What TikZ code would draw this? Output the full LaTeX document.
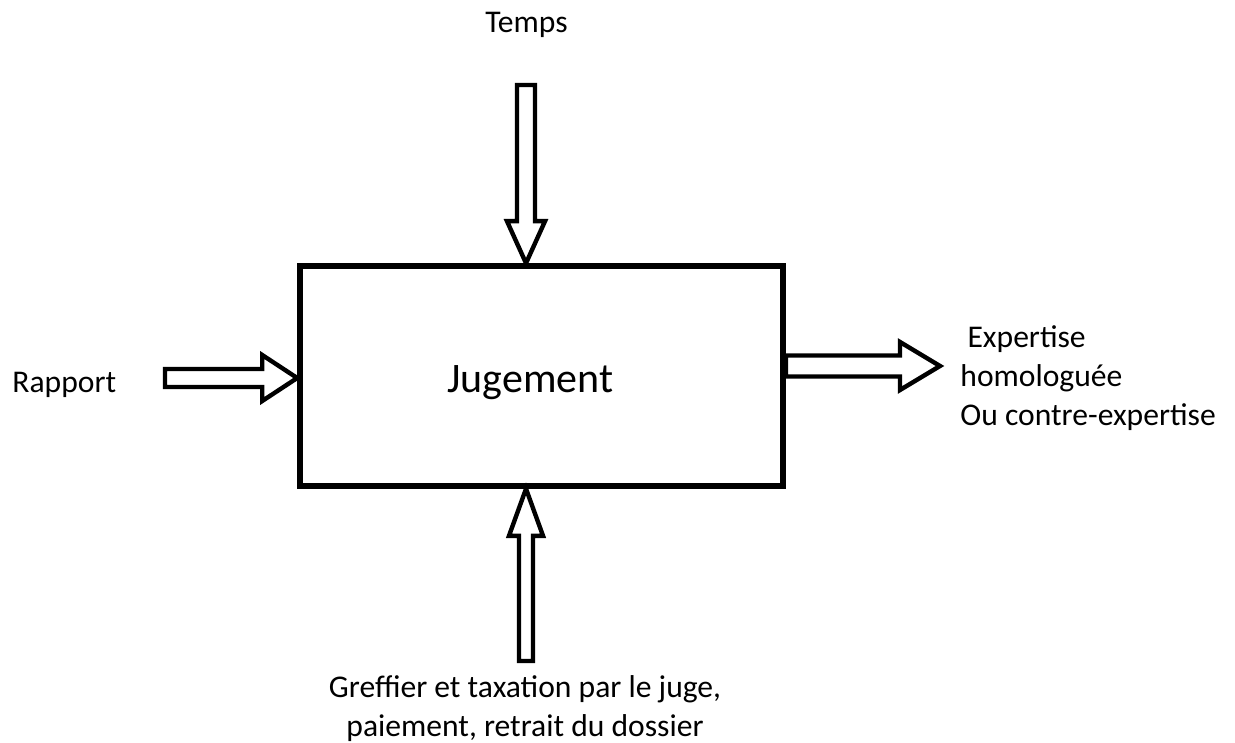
\documentclass[tikz,border=0pt]{standalone}
\usepackage{fontspec}
\setmainfont{Carlito}
\usetikzlibrary{calc}

% flèche pleine : départ, pointe, demi-largeur du corps, demi-largeur de la tête, longueur de la tête
\newcommand{\fleche}[5]{%
  \coordinate (fl-c) at ($(#2)!#5!(#1)$);
  \draw[flechebloc] ($(#1)!#3!90:(#2)$) -- ($(fl-c)!#3!90:(#2)$) -- ($(fl-c)!#4!90:(#2)$)
    -- (#2) -- ($(fl-c)!#4!-90:(#2)$) -- ($(fl-c)!#3!-90:(#2)$) -- ($(#1)!#3!-90:(#2)$) -- cycle;}

\tikzset{
  boite/.style={draw, line width=2.8pt, minimum width=241.5pt, minimum height=110pt, inner sep=0pt},
  flechebloc/.style={draw, line width=2.2pt, fill=white, line join=miter},
  etiquette/.style={inner sep=0pt, font=\fontsize{15.8pt}{19.5pt}\selectfont},
}

\begin{document}
\begin{tikzpicture}[x=0.5pt,y=-0.5pt]
	\useasboundingbox (0,0) rectangle (1235,743);

	\node[boite] (jugement) at (541.5,376) {};
	\node[anchor=base, inner sep=0pt, font=\fontsize{21pt}{25pt}\selectfont] (titre) at (530.5,392) {Jugement};

	\node[etiquette, anchor=base] (temps) at (526.5,33) {Temps};
	\node[etiquette, anchor=base west] (rapport) at (12,392) {Rapport};
	% base = ligne du bas
	\node[etiquette, anchor=base west, align=left] (expertise) at (960,425) {\ Expertise\\homologuée\\Ou contre-expertise};
	\node[etiquette, anchor=base, align=center] (greffier) at (525,736) {Greffier et taxation par le juge,\\paiement, retrait du dossier};

	\coordinate (haut) at (526,85);
	\coordinate (haut-fin) at (jugement.north -| haut);
	\coordinate (bas) at (526,661);
	\coordinate (bas-fin) at (jugement.south -| bas);
	\coordinate (gauche) at (165,378);
	\coordinate (gauche-fin) at (jugement.west |- gauche);
	\coordinate (droite-fin) at (940,366);
	\coordinate (droite) at (jugement.east |- droite-fin);

	\fleche{haut}{haut-fin}{4.5pt}{9.5pt}{21pt}
	\fleche{bas}{bas-fin}{3.5pt}{8.5pt}{23.5pt}
	\fleche{gauche}{gauche-fin}{4.5pt}{11.5pt}{17.5pt}
	\fleche{droite}{droite-fin}{5.25pt}{12pt}{20pt}
\end{tikzpicture}
\end{document}
